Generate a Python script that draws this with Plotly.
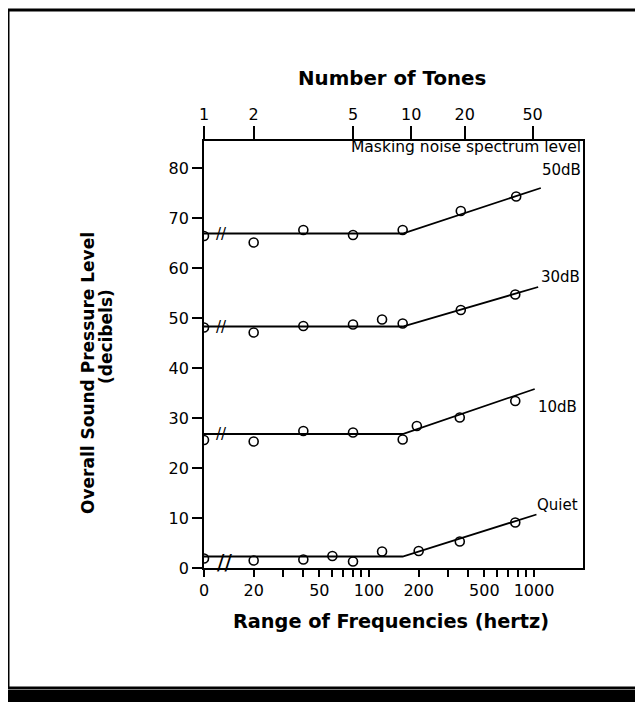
import plotly.graph_objects as go
import math

# data (frequency range in Hz, 0 = single tone)
freq_50 = [0, 20, 40, 80, 160, 360, 780]
spl_50 = [66.4, 65.1, 67.6, 66.6, 67.6, 71.4, 74.3]

freq_30 = [0, 20, 40, 80, 120, 160, 360, 770]
spl_30 = [48.1, 47.1, 48.4, 48.7, 49.7, 48.9, 51.6, 54.7]

freq_10 = [0, 20, 40, 80, 160, 195, 355, 770]
spl_10 = [25.6, 25.3, 27.4, 27.1, 25.7, 28.4, 30.1, 33.4]

freq_q = [0, 20, 40, 60, 80, 120, 200, 355, 770]
spl_q = [1.9, 1.5, 1.7, 2.4, 1.3, 3.3, 3.4, 5.3, 9.1]

# fitted broken lines
fit_freq = {"50dB": [0, 160, 1100], "30dB": [0, 160, 1060],
            "10dB": [0, 160, 1010], "Quiet": [0, 160, 1035]}
fit_spl = {"50dB": [66.9, 66.9, 76.0], "30dB": [48.3, 48.3, 56.2],
           "10dB": [26.8, 26.8, 35.8], "Quiet": [2.3, 2.3, 10.7]}

freq_ticks = [0, 20, 50, 100, 200, 500, 1000]
minor_ticks = [30, 40, 60, 70, 80, 90, 300, 400, 600, 700, 800, 900]
tone_labels = ["1", "2", "5", "10", "20", "50"]
tone_counts = [1, 2, 5, 10, 20, 50]
spacing = 20  # Hz between tones

BREAK = 10  # where "0 Hz" sits on the log axis


def pos(f):
    return BREAK if f == 0 else f


# page body has an 8px margin, so the figure starts at (8, 8) on screen
OFF = 8
W, H = 643 - OFF, 702 - OFF
L, R, T, B = 204, 583, 141, 568  # plot area in screen pixels


def px(x):
    return (x - L) / (R - L)


def py(y):
    return (B - y) / (B - T)


fig = go.Figure()

circle = dict(symbol="circle-open", size=9, color="black", line=dict(width=1.6))
for f, s in [(freq_50, spl_50), (freq_30, spl_30), (freq_10, spl_10), (freq_q, spl_q)]:
    fig.add_trace(go.Scatter(x=[pos(v) for v in f], y=s, mode="markers",
                             marker=circle, showlegend=False))

for k in fit_freq:
    fig.add_trace(go.Scatter(x=[pos(v) for v in fit_freq[k]], y=fit_spl[k], mode="lines",
                             line=dict(color="black", width=1.8), showlegend=False))

# invisible trace so the top axis is drawn
fig.add_trace(go.Scatter(x=[BREAK, 1000], y=[0, 0], xaxis="x2", mode="markers",
                         marker=dict(opacity=0), showlegend=False, hoverinfo="skip"))

tickfont = dict(family="DejaVu Sans", size=16, color="black")
xr = [math.log10(BREAK), 3.297]
fig.update_layout(
    width=W, height=H,
    margin=dict(l=L - OFF, r=W - (R - OFF), t=T - OFF, b=H - (B - OFF)),
    paper_bgcolor="white", plot_bgcolor="white",
    xaxis=dict(type="log", range=xr,
               tickvals=[pos(v) for v in freq_ticks] + minor_ticks,
               ticktext=[str(v) for v in freq_ticks] + [""] * len(minor_ticks),
               ticks="outside", ticklen=7, tickwidth=1.5, tickcolor="black",
               showline=True, linecolor="black", linewidth=1.8,
               showgrid=False, zeroline=False, tickfont=tickfont),
    xaxis2=dict(type="log", range=xr, overlaying="x", side="top",
                tickvals=[pos((n - 1) * spacing) for n in tone_counts], ticktext=tone_labels,
                ticks="outside", ticklen=13, tickwidth=1.5, tickcolor="black",
                showline=True, linecolor="black", linewidth=1.8,
                showgrid=False, zeroline=False, tickfont=tickfont),
    yaxis=dict(range=[0, 85.4], tickvals=list(range(0, 81, 10)),
               ticks="outside", ticklen=10, tickwidth=1.5, tickcolor="black",
               showline=True, linecolor="black", linewidth=1.8, mirror=True,
               showgrid=False, zeroline=False, tickfont=tickfont),
)


def bold(size):
    return dict(family="DejaVu Sans", size=size, color="black", weight="bold")


plain = dict(family="DejaVu Sans", size=15, color="black")
ann = [
    dict(text="<b>Number of Tones</b>", x=px(392), y=py(78), font=bold(19.8)),
    dict(text="<b>Range of Frequencies (hertz)</b>", x=px(391), y=py(621), font=bold(19.3)),
    dict(text="<b>Overall Sound Pressure Level</b>", x=px(88), y=py(373),
         textangle=-90, font=bold(17)),
    dict(text="<b>(decibels)</b>", x=px(106), y=py(337), textangle=-90, font=bold(17)),
    dict(text="Masking noise spectrum level", x=1, y=py(147), xanchor="right",
         font=dict(family="DejaVu Sans", size=15.5, color="black")),
]
for k, (xx, yy) in {"50dB": (561, 170), "30dB": (560, 277), "10dB": (557, 407),
                    "Quiet": (557, 505)}.items():
    ann.append(dict(text=k, x=px(xx), y=py(yy), font=plain))
for a in ann:
    a.setdefault("xanchor", "center")
    a.update(xref="paper", yref="paper", showarrow=False, yanchor="middle")

# axis break marks on the fitted lines; the lowest one runs across the frequency axis too
brk_x = math.log10(BREAK) + 17 / 164.8
for k in ["50dB", "30dB", "10dB"]:
    ann.append(dict(text="//", x=brk_x, y=fit_spl[k][0], xref="x", yref="y",
                    showarrow=False, xanchor="center", yanchor="middle",
                    font=dict(family="DejaVu Sans", size=15, color="black")))
ann.append(dict(text="//", x=brk_x + 0.02, y=1.2, xref="x", yref="y", showarrow=False,
                xanchor="center", yanchor="middle",
                font=dict(family="DejaVu Sans", size=22, color="black")))
fig.update_layout(annotations=ann)

# outer frame and bottom band of the scanned page
fig.update_layout(shapes=[
    dict(type="rect", xref="paper", yref="paper", x0=px(8), x1=px(641), y0=py(688), y1=py(10),
         line=dict(color="black", width=3)),
    dict(type="rect", xref="paper", yref="paper", x0=px(6), x1=px(645), y0=py(705), y1=py(690),
         fillcolor="black", line=dict(width=0)),
])

fig.write_html("out.html")
